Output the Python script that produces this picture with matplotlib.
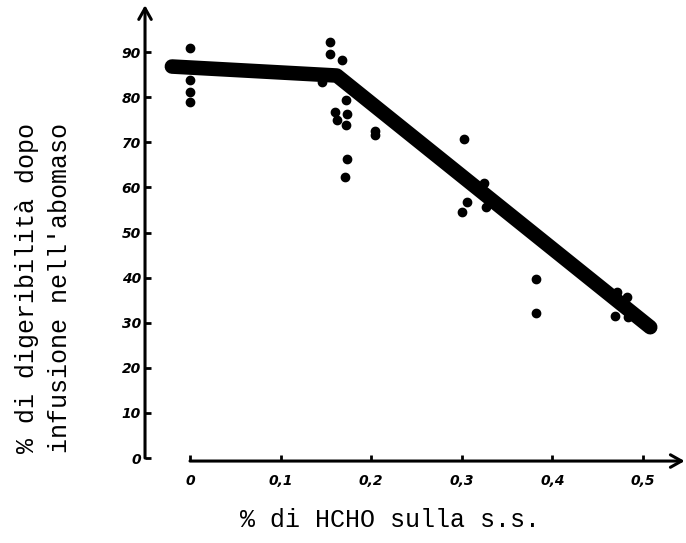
import matplotlib
matplotlib.use("Agg")
import matplotlib.pyplot as plt

# Dati
hcho = [0, 0, 0, 0, 0.146, 0.154, 0.155, 0.160, 0.162, 0.168, 0.171, 0.172, 0.172, 0.173,
        0.173, 0.204, 0.204, 0.300, 0.302, 0.306, 0.324, 0.327, 0.382, 0.382, 0.469, 0.471,
        0.482, 0.484]
digeribilita = [90.8, 83.8, 81.2, 79.0, 83.4, 89.5, 92.3, 76.8, 74.9, 88.2, 62.2, 79.4, 73.8, 76.3,
                66.2, 72.5, 71.6, 54.6, 70.7, 56.8, 60.9, 55.7, 39.8, 32.1, 31.5, 36.9,
                35.8, 31.3]

# Spezzata di regressione
retta_x = [-0.02, 0.162, 0.508]
retta_y = [86.8, 84.8, 29.0]

x_ticks = [0, 0.1, 0.2, 0.3, 0.4, 0.5]
x_labels = ['0', '0,1', '0,2', '0,3', '0,4', '0,5']
y_ticks = [0, 10, 20, 30, 40, 50, 60, 70, 80, 90]

fig = plt.figure(figsize=(6.86, 5.43), dpi=100)
ax = fig.add_axes([0.2114, 0.1344, 0.7886, 0.8656])
ax.set_xlim(-0.04967, 0.5475)
ax.set_ylim(-2.66, 101.55)

ax.plot(retta_x, retta_y, color='black', lw=10.5, solid_capstyle='round', solid_joinstyle='round')
ax.plot(hcho, digeribilita, 'o', color='black', ms=6)

# Assi disegnati a mano con le frecce
for s in ax.spines.values():
    s.set_visible(False)
ax.spines['bottom'].set_position(('data', -0.67))
frecce = dict(arrowstyle='->,head_length=0.8,head_width=0.45', lw=2.2, color='black',
              shrinkA=0, shrinkB=0)
ax.annotate('', xy=(-0.04967, 100.4), xytext=(-0.04967, 0), arrowprops=frecce,
            annotation_clip=False)
ax.annotate('', xy=(0.546, -0.67), xytext=(0, -0.67), arrowprops=frecce,
            annotation_clip=False)

ax.set_xticks(x_ticks)
ax.set_xticklabels(x_labels)
ax.set_yticks(y_ticks)
ax.tick_params(direction='in', length=4, width=2, labelsize=10)
ax.tick_params(axis='x', pad=9)
ax.tick_params(axis='y', pad=3)
for t in ax.get_xticklabels() + ax.get_yticklabels():
    t.set_fontweight('bold')
    t.set_fontstyle('italic')

fig.text(43.5 / 686, 1 - 288 / 543, "% di digeribilità dopo\ninfusione nell'abomaso",
         rotation=90, ha='center', va='center', multialignment='center',
         family='Liberation Mono', fontsize=18, linespacing=1.45)
fig.text(390 / 686, 1 - 520 / 543, '% di HCHO sulla s.s.', ha='center', va='center',
         family='Liberation Mono', fontsize=18)

fig.savefig('out.png', dpi=100)
